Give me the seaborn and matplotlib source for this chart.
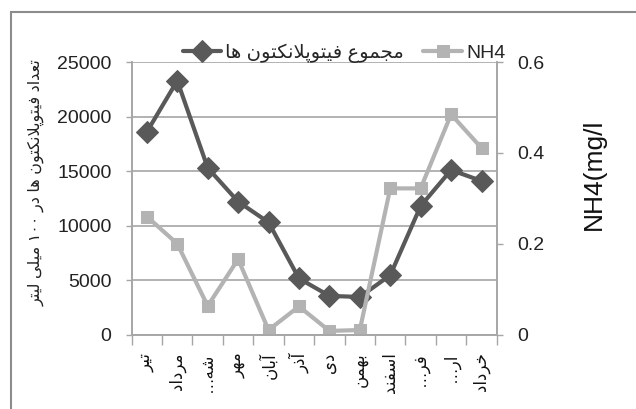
import matplotlib
matplotlib.use("Agg")
import matplotlib.pyplot as plt
import numpy as np
import seaborn as sns
from matplotlib.patches import Rectangle

# --- data ---------------------------------------------------------------
MONTHS = ["تیر", "مرداد", "شه…", "مهر", "آبان", "آذر", "دی", "بهمن", "اسفند", "فر…", "ار…", "خرداد"]
PHYTO = [18600, 23300, 15300, 12200, 10300, 5150, 3550, 3450, 5450, 11800, 15100, 14100]
NH4 = [0.26, 0.20, 0.063, 0.166, 0.01, 0.062, 0.008, 0.01, 0.322, 0.322, 0.485, 0.411]

PHYTO_LABEL = "مجموع فیتوپلانکتون ها"
NH4_LABEL = "NH4"
LEFT_YLABEL = "تعداد فیتوپلانکتون ها در ۱۰۰ میلی لیتر"
RIGHT_YLABEL = "NH4(mg/l"
LEFT_TICKS = [0, 5000, 10000, 15000, 20000, 25000]
RIGHT_TICKS = [0, 0.2, 0.4, 0.6]

DARK = "#595959"
LIGHT = "#b3b3b3"
GRID = "#a6a6a6"

# Arabic/Persian presentation forms: isolated, final, initial, medial
FORMS = {
    "ا": ("\uFE8D", "\uFE8E", None, None),
    "آ": ("\uFE81", "\uFE82", None, None),
    "ب": ("\uFE8F", "\uFE90", "\uFE91", "\uFE92"),
    "پ": ("\uFB56", "\uFB57", "\uFB58", "\uFB59"),
    "ت": ("\uFE95", "\uFE96", "\uFE97", "\uFE98"),
    "ج": ("\uFE9D", "\uFE9E", "\uFE9F", "\uFEA0"),
    "خ": ("\uFEA5", "\uFEA6", "\uFEA7", "\uFEA8"),
    "د": ("\uFEA9", "\uFEAA", None, None),
    "ذ": ("\uFEAB", "\uFEAC", None, None),
    "ر": ("\uFEAD", "\uFEAE", None, None),
    "س": ("\uFEB1", "\uFEB2", "\uFEB3", "\uFEB4"),
    "ش": ("\uFEB5", "\uFEB6", "\uFEB7", "\uFEB8"),
    "ع": ("\uFEC9", "\uFECA", "\uFECB", "\uFECC"),
    "ف": ("\uFED1", "\uFED2", "\uFED3", "\uFED4"),
    "ک": ("\uFB8E", "\uFB8F", "\uFB90", "\uFB91"),
    "ل": ("\uFEDD", "\uFEDE", "\uFEDF", "\uFEE0"),
    "م": ("\uFEE1", "\uFEE2", "\uFEE3", "\uFEE4"),
    "ن": ("\uFEE5", "\uFEE6", "\uFEE7", "\uFEE8"),
    "ه": ("\uFEE9", "\uFEEA", "\uFEEB", "\uFEEC"),
    "و": ("\uFEED", "\uFEEE", None, None),
    "ی": ("\uFBFC", "\uFBFD", "\uFBFE", "\uFBFF"),
}


def _shape_word(word: str) -> str:
    if all(not (c in FORMS) for c in word):
        return word
    out = []
    i = 0
    while i < len(word):
        c = word[i]
        prev = word[i - 1] if i > 0 else None
        joins_prev = prev in FORMS and FORMS[prev][2] is not None
        if c == "ل" and i + 1 < len(word) and word[i + 1] == "ا":
            out.append("\uFEFC" if joins_prev else "\uFEFB")
            i += 2
            continue
        if c not in FORMS:
            out.append(c)
            i += 1
            continue
        nxt = word[i + 1] if i + 1 < len(word) else None
        joins_next = nxt in FORMS and FORMS[c][2] is not None
        iso, fin, ini, med = FORMS[c]
        if joins_prev and joins_next:
            out.append(med)
        elif joins_prev:
            out.append(fin)
        elif joins_next:
            out.append(ini)
        else:
            out.append(iso)
        i += 1
    return "".join(out)[::-1]


def rtl(text: str) -> str:
    return " ".join(_shape_word(w) for w in reversed(text.split(" ")))


# --- plot ---------------------------------------------------------------
sns.set_theme(style="white")
plt.rcParams["font.family"] = ["Liberation Sans", "DejaVu Sans"]

fig = plt.figure(figsize=(6.36, 4.09), dpi=100)
ax = fig.add_axes([0.207, 0.182, 0.574, 0.666])
ax2 = ax.twinx()

x = np.arange(len(MONTHS))
sns.lineplot(x=x, y=PHYTO, ax=ax, color=DARK, linewidth=3, marker="D",
             markersize=11, markeredgecolor=DARK, legend=False)
sns.lineplot(x=x, y=NH4, ax=ax2, color=LIGHT, linewidth=3, marker="s",
             markersize=9, markeredgecolor=LIGHT, legend=False)

ax.set_xlim(-0.5, len(MONTHS) - 0.5)
ax.set_ylim(0, 25000)
ax2.set_ylim(0, 0.6)
ax.set_yticks(LEFT_TICKS)
ax.set_yticklabels([str(t) for t in LEFT_TICKS])
ax2.set_yticks(RIGHT_TICKS)
ax2.set_yticklabels(["0", "0.2", "0.4", "0.6"])

ax.set_xticks(x)
ax.set_xticklabels([rtl(m) for m in MONTHS], rotation=90, fontsize=12)
ax.set_xticks(np.arange(-0.5, len(MONTHS)), minor=True)
ax.tick_params(axis="x", which="major", length=0, pad=13, colors="#111111")
ax.tick_params(axis="x", which="minor", length=7, width=1, color=GRID, bottom=True)
ax.tick_params(axis="y", length=4.5, width=1, color=GRID, pad=10, labelsize=14,
               labelcolor="#222222", left=True)
ax2.tick_params(axis="y", length=4.5, width=1, color=GRID, pad=10, labelsize=14,
                labelcolor="#222222", right=True)

ax.yaxis.grid(True, color=GRID, linewidth=1.2)
ax.xaxis.grid(False)
ax2.grid(False)
for a in (ax, ax2):
    a.spines["top"].set_visible(False)
    for s in ("left", "right", "bottom"):
        a.spines[s].set_color(GRID)
        a.spines[s].set_linewidth(1.2)
ax.set_xlabel("")
ax.set_ylabel("")
ax2.set_ylabel(RIGHT_YLABEL, fontsize=19, color="#111111", va="center")
ax2.yaxis.set_label_coords(1.266, 0.59)

fig.text(36 / 636, 1 - 183 / 409, rtl(LEFT_YLABEL), rotation=90, ha="center",
         va="center", fontsize=11.5, color="#222222")

handles = [ax.lines[0], ax2.lines[0]]
fig.legend(handles, [rtl(PHYTO_LABEL), NH4_LABEL], loc="center",
           bbox_to_anchor=(344 / 636, 1 - 53 / 409), ncol=2, frameon=False,
           fontsize=14, handlelength=2.0, columnspacing=1.0, handletextpad=0.2,
           borderaxespad=0, borderpad=0)

fig.patches.append(Rectangle((11 / 636, -0.1), 2, 1.1 - 12 / 409,
                             transform=fig.transFigure, fill=False,
                             edgecolor="#8c8c8c", linewidth=1.5))

fig.savefig("out.png", dpi=100)
